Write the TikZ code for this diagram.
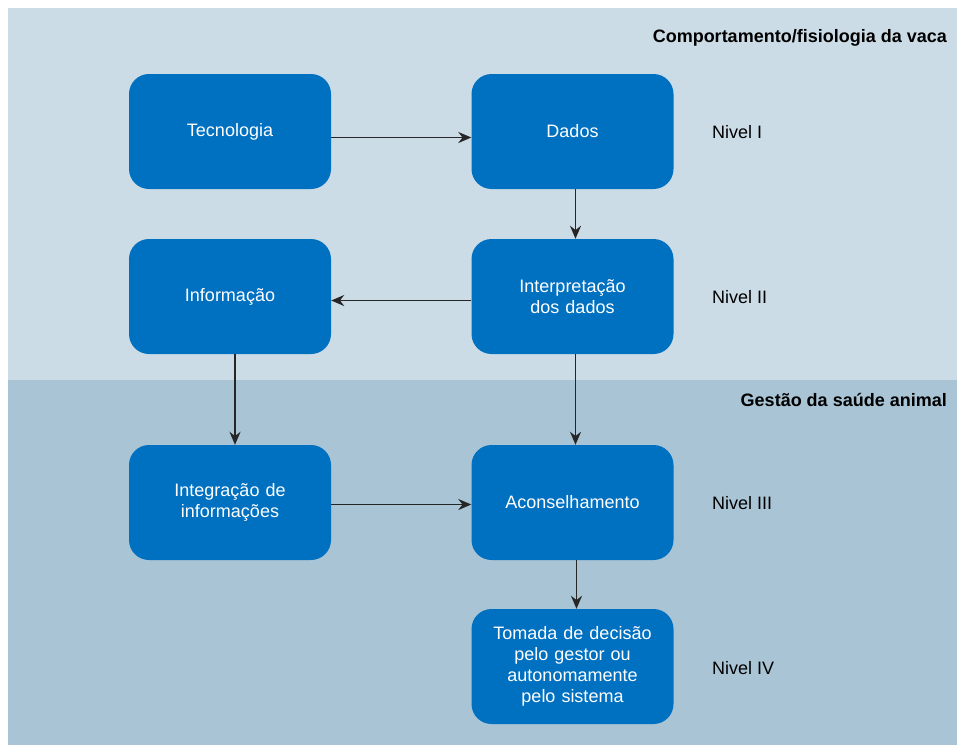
\documentclass[tikz,border=0pt]{standalone}
\usepackage{fontspec}
\setmainfont{Liberation Sans}
\usetikzlibrary{shapes.geometric, arrows.meta}
\definecolor{bandtop}{RGB}{204,220,230}
\definecolor{bandbot}{RGB}{169,196,213}
\definecolor{boxblue}{RGB}{0,112,192}
\tikzstyle{pbox} = [rectangle, rounded corners=20pt, minimum width=202pt, minimum height=115pt, align=center, text width=190pt, fill=boxblue, text=white, font=\fontsize{18}{21}\selectfont]
\tikzstyle{plevel} = [inner sep=0pt, anchor=west, font=\fontsize{18}{21}\selectfont]
\tikzstyle{ptitle} = [inner sep=0pt, anchor=east, font=\fontsize{18}{21}\selectfont\bfseries]
\tikzstyle{arrow} = [line width=1.8pt, draw=black!85, ->, >={Stealth[length=13pt,width=11pt]}]

\begin{document}
\begin{tikzpicture}[x=1pt, y=-1pt, node distance=165pt]
\useasboundingbox (0,0) rectangle (957,745);
\fill [bandtop] (8,8) rectangle (957,380);
\fill [bandbot] (8,380) rectangle (957,745);
\node (toptitle) [ptitle] at (947,38) {Comportamento/fisiologia da vaca};
\node (bottitle) [ptitle] at (947,400) {Gestão da saúde animal};
\node (tech) [pbox] at (230,131.5) {Tecnologia};
\node (dados) [pbox, right of=tech, xshift=177.5pt] {Dados};
\node (interp) [pbox, below of=dados] {Interpretação\\dos dados};
\node (info) [pbox, left of=interp, xshift=-177.5pt] {Informação};
\node (acons) [pbox, below of=interp, yshift=-41pt] {Aconselhamento};
\node (integ) [pbox, left of=acons, xshift=-177.5pt] {Integração de\\informações};
\node (decis) [pbox, below of=acons, yshift=1pt] {Tomada de decisão\\pelo gestor ou\\autonomamente\\pelo sistema};
\node (lv1) [plevel] at (712,132) {Nivel I};
\node (lv2) [plevel] at (712,297) {Nivel II};
\node (lv3) [plevel] at (712,503) {Nivel III};
\node (lv4) [plevel] at (712,668) {Nivel IV};
\draw [arrow] ([yshift=-6pt]tech.east) -- ([yshift=-6pt]dados.west);
\draw [arrow] ([xshift=3pt]dados.south) -- ([xshift=3pt]interp.north);
\draw [arrow] ([yshift=-4pt]interp.west) -- ([yshift=-4pt]info.east);
\draw [arrow] ([xshift=5pt]info.south) -- ([xshift=5pt]integ.north);
\draw [arrow] ([xshift=3pt]interp.south) -- ([xshift=3pt]acons.north);
\draw [arrow] ([yshift=-2pt]integ.east) -- ([yshift=-2pt]acons.west);
\draw [arrow] ([xshift=4pt]acons.south) -- ([xshift=4pt]decis.north);
\end{tikzpicture}
\end{document}
